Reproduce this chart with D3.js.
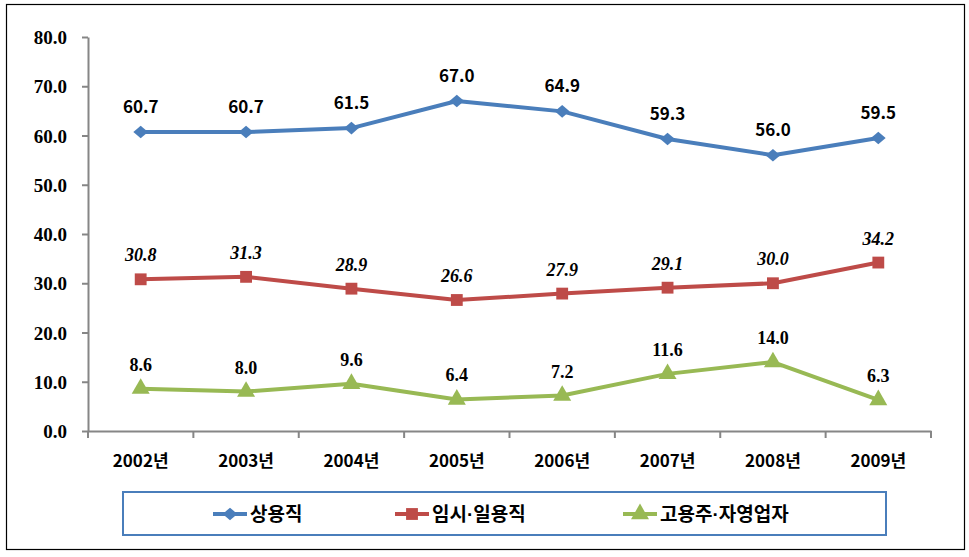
<!DOCTYPE html>
<html>
<head>
<meta charset="utf-8">
<script src="https://cdn.jsdelivr.net/npm/d3@7"></script>
<style>
  body { margin: 0; background: #fff; }
</style>
</head>
<body>
<div id="chart"></div>
<script>
var years = ["2002년", "2003년", "2004년", "2005년", "2006년", "2007년", "2008년", "2009년"];
var regular = [60.7, 60.7, 61.5, 67.0, 64.9, 59.3, 56.0, 59.5];
var tempDaily = [30.8, 31.3, 28.9, 26.6, 27.9, 29.1, 30.0, 34.2];
var selfEmployed = [8.6, 8.0, 9.6, 6.4, 7.2, 11.6, 14.0, 6.3];
var seriesNames = ["상용직", "임시·일용직", "고용주·자영업자"];
var yTicks = [0, 10, 20, 30, 40, 50, 60, 70, 80];

var W = 969, H = 557;
var svg = d3.select("#chart").append("svg")
    .attr("width", W)
    .attr("height", H);

// outer frame
svg.append("rect")
    .attr("x", 6.5).attr("y", 4.5)
    .attr("width", 958).attr("height", 545)
    .attr("fill", "none")
    .attr("stroke", "#000")
    .attr("stroke-width", 1.2);

var x = d3.scaleBand().domain(years).range([88, 931]);
var y = d3.scaleLinear().domain([0, 80]).range([431, 37]);

// Y axis
var yAxis = svg.append("g")
    .attr("transform", "translate(88,0)")
    .call(d3.axisLeft(y).tickValues(yTicks).tickSize(6).tickSizeOuter(0).tickFormat(d3.format(".1f")));
yAxis.select(".domain").attr("stroke", "#868686").attr("stroke-width", 2);
yAxis.selectAll(".tick line").attr("stroke", "#868686").attr("stroke-width", 2);
yAxis.selectAll("text")
    .attr("x", -21)
    .attr("dy", "0.35em")
    .style("font-family", "'Liberation Serif', 'Times New Roman', serif")
    .style("font-weight", "bold")
    .style("font-size", "19px")
    .attr("fill", "#000");

// X axis
var xAxis = svg.append("g")
    .attr("transform", "translate(0,431)")
    .call(d3.axisBottom(x).tickSize(0).tickSizeOuter(0));
xAxis.select(".domain").attr("stroke", "#868686").attr("stroke-width", 2);
xAxis.selectAll("text")
    .attr("y", 24)
    .style("font-family", "'Noto Sans CJK KR', sans-serif")
    .style("font-weight", "bold")
    .style("font-size", "17px")
    .attr("fill", "#000");
// boundary ticks
xAxis.selectAll(".bticks")
    .data(d3.range(years.length + 1))
    .enter().append("line")
    .attr("x1", function (i) { return 88 + i * x.step(); })
    .attr("x2", function (i) { return 88 + i * x.step(); })
    .attr("y1", 0).attr("y2", 7)
    .attr("stroke", "#868686")
    .attr("stroke-width", 2);

// wide diamond like the office chart marker
var diamond = { draw: function (ctx, size) {
    var r = Math.sqrt(size) / 2;
    ctx.moveTo(0, -r * 0.9);
    ctx.lineTo(r * 1.05, 0);
    ctx.lineTo(0, r * 0.9);
    ctx.lineTo(-r * 1.05, 0);
    ctx.closePath();
} };

var cx = function (d, i) { return x(years[i]) + x.bandwidth() / 2; };
var line = d3.line()
    .x(function (d, i) { return x(years[i]) + x.bandwidth() / 2; })
    .y(function (d) { return y(d); });

var series = [
    { name: seriesNames[0], values: regular, color: "#4A7EBB", shape: diamond, size: 196,
      font: "'Noto Sans CJK KR', sans-serif", style: "normal", fsize: "17px", off: 19 },
    { name: seriesNames[1], values: tempDaily, color: "#BE4B48", shape: d3.symbolSquare, size: 140,
      font: "'Liberation Serif', 'Times New Roman', serif", style: "italic", fsize: "18px", off: 18 },
    { name: seriesNames[2], values: selfEmployed, color: "#98B954", shape: d3.symbolTriangle, size: 140,
      font: "'Liberation Serif', 'Times New Roman', serif", style: "normal", fsize: "18px", off: 18 }
];

series.forEach(function (s) {
    var g = svg.append("g");
    g.append("path")
        .datum(s.values)
        .attr("d", line)
        .attr("fill", "none")
        .attr("stroke", s.color)
        .attr("stroke-width", 4)
        .attr("stroke-linejoin", "round");

    g.selectAll(".m")
        .data(s.values)
        .enter().append("path")
        .attr("d", d3.symbol().type(s.shape).size(s.size))
        .attr("transform", function (d, i) { return "translate(" + cx(d, i) + "," + y(d) + ")"; })
        .attr("fill", s.color);

    g.selectAll(".lbl")
        .data(s.values)
        .enter().append("text")
        .attr("x", cx)
        .attr("y", function (d) { return y(d) - s.off; })
        .attr("text-anchor", "middle")
        .style("font-family", s.font)
        .style("font-style", s.style)
        .style("font-weight", "bold")
        .style("font-size", s.fsize)
        .attr("fill", "#000")
        .text(function (d) { return d.toFixed(1); });
});

// Legend
svg.append("rect")
    .attr("x", 123).attr("y", 492)
    .attr("width", 763).attr("height", 43)
    .attr("fill", "#fff")
    .attr("stroke", "#4A7EBB")
    .attr("stroke-width", 2);

var legendX = [213, 395, 623];
series.forEach(function (s, i) {
    var lg = svg.append("g").attr("transform", "translate(" + legendX[i] + ",514)");
    lg.append("line")
        .attr("x1", 0).attr("x2", 34)
        .attr("stroke", s.color)
        .attr("stroke-width", 4);
    lg.append("path")
        .attr("d", d3.symbol().type(s.shape).size(s.size))
        .attr("transform", "translate(17,0)")
        .attr("fill", s.color);
    var t = lg.append("text")
        .attr("x", 37)
        .attr("dy", "0.36em")
        .style("font-family", "'Noto Sans CJK KR', sans-serif")
        .style("font-weight", "bold")
        .style("font-size", "19px")
        .attr("fill", "#000");
    s.name.split("·").forEach(function (part, k) {
        if (k > 0) {
            t.append("tspan").style("font-family", "'Liberation Sans', sans-serif").text("·");
        }
        t.append("tspan").text(part);
    });
});
</script>
</body>
</html>
